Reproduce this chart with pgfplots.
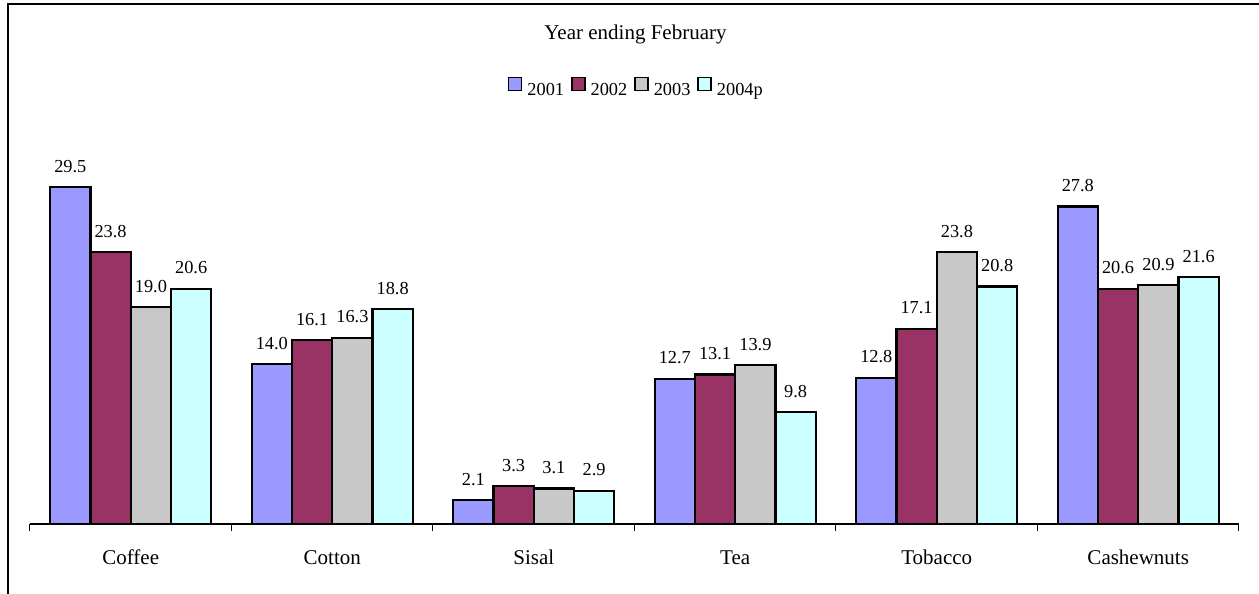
\documentclass[border=0pt]{standalone}
\usepackage{pgfplots}
\pgfplotsset{compat=1.18}
\usepackage{fontspec}
\setmainfont{Liberation Serif}

\definecolor{cA}{RGB}{153,153,255}
\definecolor{cB}{RGB}{153,51,102}
\definecolor{cC}{RGB}{200,200,200}
\definecolor{cD}{RGB}{204,255,255}

\begin{document}
\begin{tikzpicture}[x=0.6pt,y=0.6pt]
\useasboundingbox (0,0) rectangle (1259,594);
% outer frame
\draw[line width=0.8pt] (8,-5) -- (8,590) -- (1262,590);
\node[anchor=base,font=\fontsize{12.6}{15}\selectfont] at (635.5,554) {Year ending February};

\begin{axis}[
  at={(18pt,42pt)}, anchor=south west,
  scale only axis,
  width=725.4pt, height=205.56pt,
  xmin=-0.5, xmax=5.5, ymin=0, ymax=30,
  clip=false,
  /pgf/number format/assume math mode=true,
  axis x line*=bottom,
  axis y line=none,
  x axis line style={line width=0.8pt,-},
  xtick={0,...,5},
  xticklabels={Coffee,Cotton,Sisal,Tea,Tobacco,Cashewnuts},
  major tick length=0pt,
  minor xtick={-0.5,0.5,...,5.5},
  minor tick length=4.2pt,
  tick align=outside,
  minor tick style={line width=0.6pt,black},
  xticklabel style={anchor=base, yshift=-24.6pt, inner sep=0pt,
    font=\fontsize{12.6}{15}\selectfont},
  ybar, bar width=0.2,
  every axis plot/.append style={draw=black, line width=1.35pt},
  nodes near coords={\pgfmathprintnumber[fixed,fixed zerofill,precision=1,assume math mode=true]{\pgfplotspointmeta}},
  every node near coord/.append style={anchor=base, yshift=9pt, inner sep=0pt,
    font=\fontsize{11}{13}\selectfont, text=black},
  legend columns=4,
  legend style={at={(0.502,1.27)}, anchor=center, draw=none, fill=none,
    font=\fontsize{11}{13}\selectfont,
    /tikz/every odd column/.append style={column sep=1pt},
    /tikz/every even column/.append style={column sep=2pt}},
  legend image code/.code={\draw[#1,line width=1.1pt] (0pt,0pt) rectangle (7.8pt,7.8pt);},
]
\addplot[fill=cA, bar shift=-0.3] coordinates {(0,29.5) (1,14.0) (2,2.1) (3,12.7) (4,12.8) (5,27.8)};
\addplot[fill=cB, bar shift=-0.1] coordinates {(0,23.8) (1,16.1) (2,3.3) (3,13.1) (4,17.1) (5,20.6)};
\addplot[fill=cC, bar shift=0.1]  coordinates {(0,19.0) (1,16.3) (2,3.1) (3,13.9) (4,23.8) (5,20.9)};
\addplot[fill=cD, bar shift=0.3]  coordinates {(0,20.6) (1,18.8) (2,2.9) (3,9.8) (4,20.8) (5,21.6)};
\legend{2001,2002,2003,2004p}
\end{axis}
\end{tikzpicture}
\end{document}
